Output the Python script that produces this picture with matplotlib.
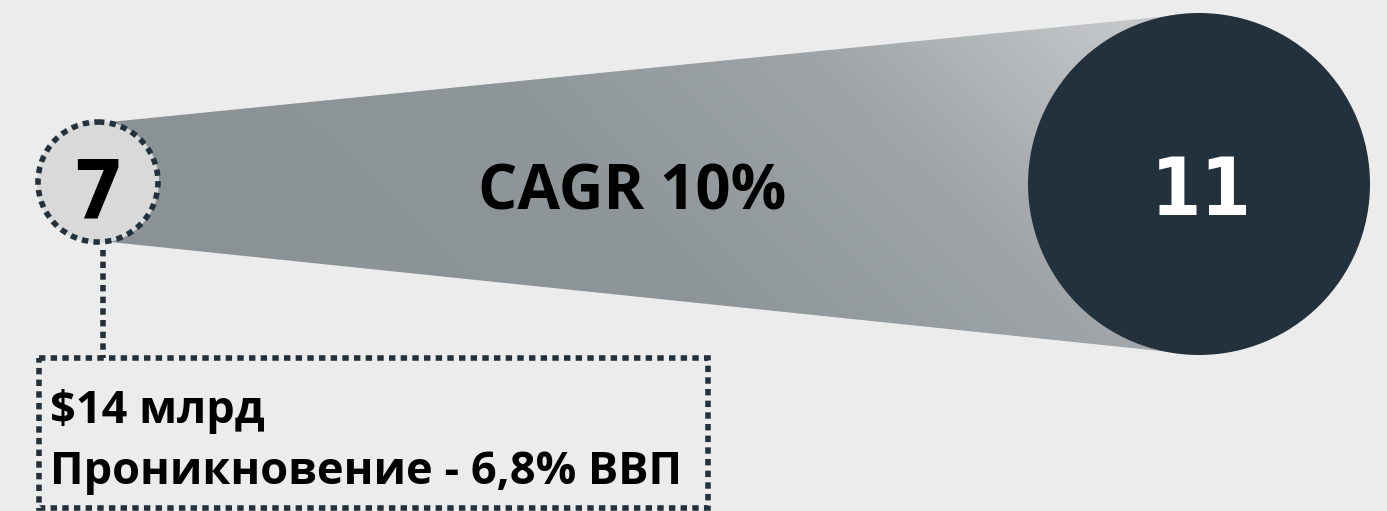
import numpy as np
import matplotlib
matplotlib.use("Agg")
import matplotlib.pyplot as plt
from matplotlib.patches import Circle, Polygon, Rectangle
from matplotlib.colors import LinearSegmentedColormap

# ---- data ----
start_value = "7"
end_value = "11"
growth_label = "CAGR 10%"
note_lines = ["$14 млрд", "Проникновение - 6,8% ВВП"]

W, H = 1387, 511
BG = "#ececec"
DARK = "#22313b"

fig = plt.figure(figsize=(W / 100, H / 100), dpi=100, facecolor=BG)
ax = fig.add_axes([0, 0, 1, 1])
ax.set_xlim(0, W)
ax.set_ylim(H, 0)
ax.set_aspect("equal")
ax.axis("off")
ax.set_facecolor(BG)

# geometry
sx, sy, sr = 98, 182, 61
bx, by, br = 1199, 184, 171

# cone gradient
cone = Polygon([[sx + 12, sy - sr + 1], [bx, by - br], [bx, by + br], [sx + 12, sy + sr - 1]],
               closed=True, facecolor="none", edgecolor="none")
ax.add_patch(cone)
xx, yy = np.meshgrid(np.linspace(0, W, 700), np.linspace(0, H, 260))
s = xx + (184 - yy)
t = np.clip((s - 150) / (1300 - 150), 0, 1)
cmap = LinearSegmentedColormap.from_list(
    "g", [(0.0, "#8b9296"), (0.39, "#8f969a"), (0.69, "#9ea4a7"), (0.96, "#c0c4c6"), (1.0, "#c4c8ca")])
im = ax.imshow(t, extent=[0, W, H, 0], cmap=cmap, vmin=0, vmax=1, zorder=1,
               interpolation="bilinear", aspect="auto")
im.set_clip_path(cone)

dots = (0, (1.15, 0.95))
LW = 4.0

# big circle
ax.add_patch(Circle((bx, by), br, facecolor=DARK, edgecolor="none", zorder=3))
ax.text(1201, 215, end_value, color="white", fontsize=58, fontweight="bold",
        family="DejaVu Sans", fontstretch="condensed", ha="center", va="baseline", zorder=4)

# small circle
ax.add_patch(Circle((sx, sy), sr, facecolor="#d9d9d9", edgecolor="none", zorder=3))
ax.add_patch(Circle((sx, sy), sr - 1, facecolor="none", edgecolor=DARK, lw=LW,
                    linestyle=dots, zorder=4))
ax.text(98, 218, start_value, color="black", fontsize=59, fontweight="bold",
        family="DejaVu Sans", fontstretch="condensed", ha="center", va="baseline", zorder=5)

# growth label
ax.text(478, 210, growth_label, color="black", fontsize=44.5, fontweight="bold",
        family="Open Sans", ha="left", va="baseline", zorder=5)

# connector
ax.plot([103, 103], [sy + sr + 7, 358], color=DARK, lw=LW,
        linestyle=dots, solid_capstyle="butt", zorder=4)

# note box
ax.add_patch(Rectangle((39, 358), 669, 150, facecolor="none", edgecolor=DARK, lw=LW,
                       linestyle=dots, zorder=4))
ax.text(50, 423, note_lines[0], color="black", fontsize=32.5, fontweight="bold",
        family="Open Sans", ha="left", va="baseline", zorder=5)
ax.text(50, 484, note_lines[1], color="black", fontsize=32.5, fontweight="bold",
        family="Open Sans", ha="left", va="baseline", zorder=5)

fig.savefig("out.png", dpi=100, facecolor=BG)
